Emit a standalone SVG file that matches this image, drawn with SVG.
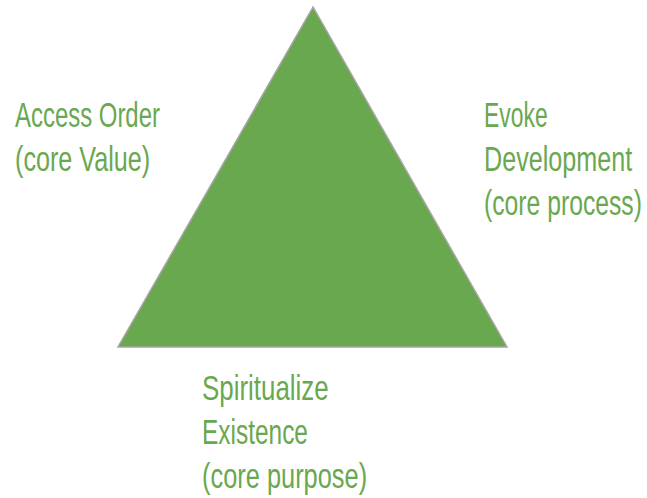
<svg xmlns="http://www.w3.org/2000/svg" width="647" height="498" viewBox="0 0 647 498">
<style>
.lbl{font-family:"Liberation Sans",Arial,sans-serif;font-weight:400;font-size:36px;fill:#6aa84f}
</style>
<rect width="647" height="498" fill="#ffffff"/>
<g id="triangle">
<polygon points="313,7 118,347 507,347" fill="#6aa84f" stroke="#a6a6a6" stroke-width="1.5"/>
</g>
<g id="connectors"></g>
<g id="label-value" transform="translate(15,0) scale(0.65,1)">
<text class="lbl" x="0" y="127" textLength="223" lengthAdjust="spacingAndGlyphs">Access Order</text>
<text class="lbl" x="0" y="171" textLength="208" lengthAdjust="spacingAndGlyphs">(core Value)</text>
</g>
<g id="label-process" transform="translate(484,0) scale(0.65,1)">
<text class="lbl" x="0" y="127" textLength="98" lengthAdjust="spacingAndGlyphs">Evoke</text>
<text class="lbl" x="0" y="171" textLength="228" lengthAdjust="spacingAndGlyphs">Development</text>
<text class="lbl" x="0" y="215" textLength="243" lengthAdjust="spacingAndGlyphs">(core process)</text>
</g>
<g id="label-purpose" transform="translate(202,0) scale(0.65,1)">
<text class="lbl" x="0" y="400" textLength="195" lengthAdjust="spacingAndGlyphs">Spiritualize</text>
<text class="lbl" x="0" y="444" textLength="163" lengthAdjust="spacingAndGlyphs">Existence</text>
<text class="lbl" x="0" y="488" textLength="254" lengthAdjust="spacingAndGlyphs">(core purpose)</text>
</g>
</svg>
